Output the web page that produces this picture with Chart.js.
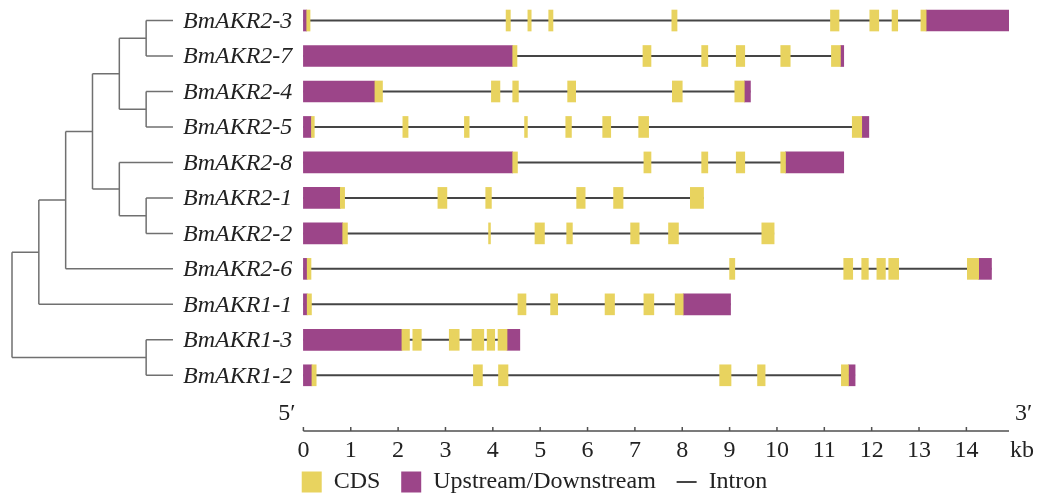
<!DOCTYPE html>
<html>
<head>
<meta charset="utf-8">
<script src="https://cdn.jsdelivr.net/npm/chart.js@4.4.1/dist/chart.umd.min.js"></script>
<style>
  html, body { margin: 0; padding: 0; background: #ffffff; }
  #wrap { width: 1038px; height: 499px; position: relative; }
</style>
</head>
<body>
<div id="wrap"><canvas id="geneChart"></canvas></div>
<script>
// genes, top to bottom
const genes = ['BmAKR2-3', 'BmAKR2-7', 'BmAKR2-4', 'BmAKR2-5', 'BmAKR2-8', 'BmAKR2-1',
               'BmAKR2-2', 'BmAKR2-6', 'BmAKR1-1', 'BmAKR1-3', 'BmAKR1-2'];

// full length of each gene (kb) -> intron line
const geneLength = [14.91, 11.41, 9.44, 11.94, 11.41, 8.45, 9.94, 14.53, 9.02, 4.57, 11.65];

// upstream / downstream regions (kb)
const utrRegions = [
    [[0, 0.07], [13.15, 14.91]],
    [[0, 4.42], [11.34, 11.41]],
    [[0, 1.51], [9.31, 9.44]],
    [[0, 0.17], [11.79, 11.94]],
    [[0, 4.42], [10.18, 11.41]],
    [[0, 0.78]],
    [[0, 0.83]],
    [[0, 0.08], [14.26, 14.53]],
    [[0, 0.08], [8.02, 9.02]],
    [[0, 2.08], [4.30, 4.57]],
    [[0, 0.18], [11.51, 11.65]]
];

// CDS exons (kb)
const cdsRegions = [
    [[0.07, 0.14], [4.28, 4.37], [4.74, 4.81], [5.18, 5.27], [7.78, 7.89], [11.13, 11.31], [11.96, 12.15], [12.43, 12.55], [13.04, 13.15]],
    [[4.42, 4.51], [7.17, 7.34], [8.41, 8.54], [9.14, 9.32], [10.08, 10.28], [11.15, 11.34]],
    [[1.51, 1.67], [3.97, 4.15], [4.42, 4.54], [5.58, 5.75], [7.79, 8.00], [9.11, 9.31]],
    [[0.17, 0.23], [2.10, 2.21], [3.40, 3.50], [4.67, 4.73], [5.54, 5.66], [6.32, 6.49], [7.08, 7.29], [11.59, 11.79]],
    [[4.42, 4.52], [7.19, 7.34], [8.41, 8.54], [9.14, 9.32], [10.08, 10.18]],
    [[0.78, 0.87], [2.84, 3.03], [3.85, 3.97], [5.77, 5.95], [6.55, 6.75], [8.17, 8.45]],
    [[0.83, 0.93], [3.91, 3.95], [4.89, 5.09], [5.56, 5.68], [6.91, 7.09], [7.71, 7.92], [9.68, 9.94]],
    [[0.08, 0.16], [9.00, 9.11], [11.41, 11.60], [11.79, 11.93], [12.11, 12.29], [12.36, 12.57], [14.02, 14.26]],
    [[0.08, 0.17], [4.53, 4.70], [5.22, 5.37], [6.37, 6.57], [7.19, 7.40], [7.85, 8.02]],
    [[2.08, 2.24], [2.31, 2.49], [3.08, 3.29], [3.56, 3.81], [3.88, 4.04], [4.11, 4.30]],
    [[0.18, 0.27], [3.59, 3.78], [4.12, 4.32], [8.79, 9.03], [9.59, 9.75], [11.36, 11.51]]
];

const kbTicks = [0, 1, 2, 3, 4, 5, 6, 7, 8, 9, 10, 11, 12, 13, 14];
const kbMax = 14.9;

// phylogenetic tree, leaves are gene indexes
const tree = [[[[[[0, 1], [2, 3]], [4, [5, 6]]], 7], 8], [9, 10]];

const cdsColor = '#e8d35f';
const utrColor = '#9c4589';
const intronColor = '#454545';
const serif = "'Liberation Serif', 'DejaVu Serif', serif";

// --- build datasets from the arrays ---
function flatBars(regions) {
    const out = [];
    regions.forEach((list, row) => list.forEach(r => out.push({ x: [r[0], r[1]], y: row })));
    return out;
}

const intronData = [];
geneLength.forEach((len, row) => {
    intronData.push({ x: 0, y: row }, { x: len, y: row }, { x: NaN, y: NaN });
});

// tree: node height -> depth level, leaves at the deepest level
function height(node) {
    return Array.isArray(node) ? 1 + Math.max(...node.map(height)) : 0;
}
const leafLevel = height(tree);
const treeData = [];
function layout(node) {
    if (!Array.isArray(node)) return { lvl: leafLevel, y: node };
    const lvl = leafLevel - height(node);
    const kids = node.map(layout);
    treeData.push({ x: lvl, y: kids[0].y }, { x: lvl, y: kids[kids.length - 1].y }, { x: NaN, y: NaN });
    kids.forEach(k => treeData.push({ x: lvl, y: k.y }, { x: k.lvl, y: k.y }, { x: NaN, y: NaN }));
    return { lvl, y: (kids[0].y + kids[kids.length - 1].y) / 2 };
}
layout(tree);

// extra drawing: axis line, 5'/3', kb and the gene names
const decorPlugin = {
    id: 'decor',
    afterDatasetsDraw(chart) {
        const { ctx, chartArea, scales } = chart;
        const x = scales.x, y = scales.y, xt = scales.xt;
        const base = chartArea.bottom;
        ctx.save();
        ctx.strokeStyle = '#505050';
        ctx.lineWidth = 1.5;
        ctx.beginPath();
        ctx.moveTo(x.getPixelForValue(0), base);
        ctx.lineTo(x.getPixelForValue(kbMax), base);
        kbTicks.forEach(t => {
            const px = x.getPixelForValue(t);
            ctx.moveTo(px, base);
            ctx.lineTo(px, base - 4);
        });
        ctx.stroke();

        ctx.fillStyle = '#222';
        ctx.textBaseline = 'middle';
        ctx.font = '24px ' + serif;
        ctx.textAlign = 'right';
        ctx.fillText('5\u2032', x.getPixelForValue(0) - 8, base - 17);
        ctx.textAlign = 'left';
        ctx.fillText('3\u2032', x.getPixelForValue(kbMax) + 6, base - 17);
        ctx.fillText('kb', x.getPixelForValue(kbMax) + 1, base + 20);

        ctx.font = 'italic 24px ' + serif;
        const lx = xt.getPixelForValue(leafLevel) + 10;
        genes.forEach((g, i) => ctx.fillText(g, lx, y.getPixelForValue(i) + 1));
        ctx.restore();
    }
};

window.onload = () => {
    const ctx = document.getElementById('geneChart').getContext('2d');
    new Chart(ctx, {
        type: 'bar',
        data: {
            datasets: [
                {
                    label: 'CDS',
                    data: flatBars(cdsRegions),
                    backgroundColor: cdsColor,
                    indexAxis: 'y',
                    grouped: false,
                    barThickness: 21,
                    borderWidth: 0,
                    order: 1
                },
                {
                    label: 'Upstream/Downstream',
                    data: flatBars(utrRegions),
                    backgroundColor: utrColor,
                    indexAxis: 'y',
                    grouped: false,
                    barThickness: 21,
                    borderWidth: 0,
                    order: 2
                },
                {
                    type: 'line',
                    label: 'Intron',
                    data: intronData,
                    borderColor: intronColor,
                    backgroundColor: intronColor,
                    borderWidth: 2,
                    pointRadius: 0,
                    spanGaps: false,
                    fill: false,
                    order: 3
                },
                {
                    type: 'line',
                    label: 'tree',
                    data: treeData,
                    xAxisID: 'xt',
                    borderColor: '#707070',
                    borderWidth: 1.5,
                    pointRadius: 0,
                    spanGaps: false,
                    fill: false,
                    clip: false,
                    order: 4
                }
            ]
        },
        options: {
            responsive: true,
            maintainAspectRatio: false,
            animation: false,
            layout: { padding: { left: 60, right: 29, top: 4, bottom: 0 } },
            scales: {
                x: {
                    type: 'linear',
                    offset: false,
                    min: -5.14,
                    max: kbMax,
                    grid: { display: false, drawTicks: false },
                    border: { display: false },
                    afterBuildTicks: axis => { axis.ticks = kbTicks.map(v => ({ value: v })); },
                    afterFit: axis => { axis.height = 35; },
                    ticks: {
                        color: '#222',
                        padding: 8,
                        maxRotation: 0,
                        autoSkip: false,
                        font: { family: serif, size: 24, lineHeight: 1 }
                    }
                },
                xt: {
                    type: 'linear',
                    display: false,
                    offset: false,
                    min: 1.789,
                    max: 37.16
                },
                y: {
                    type: 'linear',
                    display: false,
                    offset: false,
                    reverse: true,
                    min: -0.4655,
                    max: 11.57
                }
            },
            plugins: {
                legend: {
                    position: 'bottom',
                    maxHeight: 33,
                    labels: {
                        color: '#222',
                        font: { family: serif, size: 24, lineHeight: 1 },
                        usePointStyle: true,
                        pointStyleWidth: 20,
                        boxHeight: 21,
                        padding: 4,
                        generateLabels: chart => chart.data.datasets.slice(0, 3).map((ds, i) => ({
                            text: i < 2 ? ds.label + '\u2002\u2009' : ds.label,
                            fillStyle: ds.backgroundColor,
                            strokeStyle: i === 2 ? ds.borderColor : ds.backgroundColor,
                            lineWidth: i === 2 ? 2 : 0,
                            pointStyle: i === 2 ? 'line' : 'rect',
                            fontColor: '#222',
                            datasetIndex: i
                        }))
                    }
                },
                tooltip: { enabled: false }
            }
        },
        plugins: [decorPlugin]
    });
};
</script>
</body>
</html>
